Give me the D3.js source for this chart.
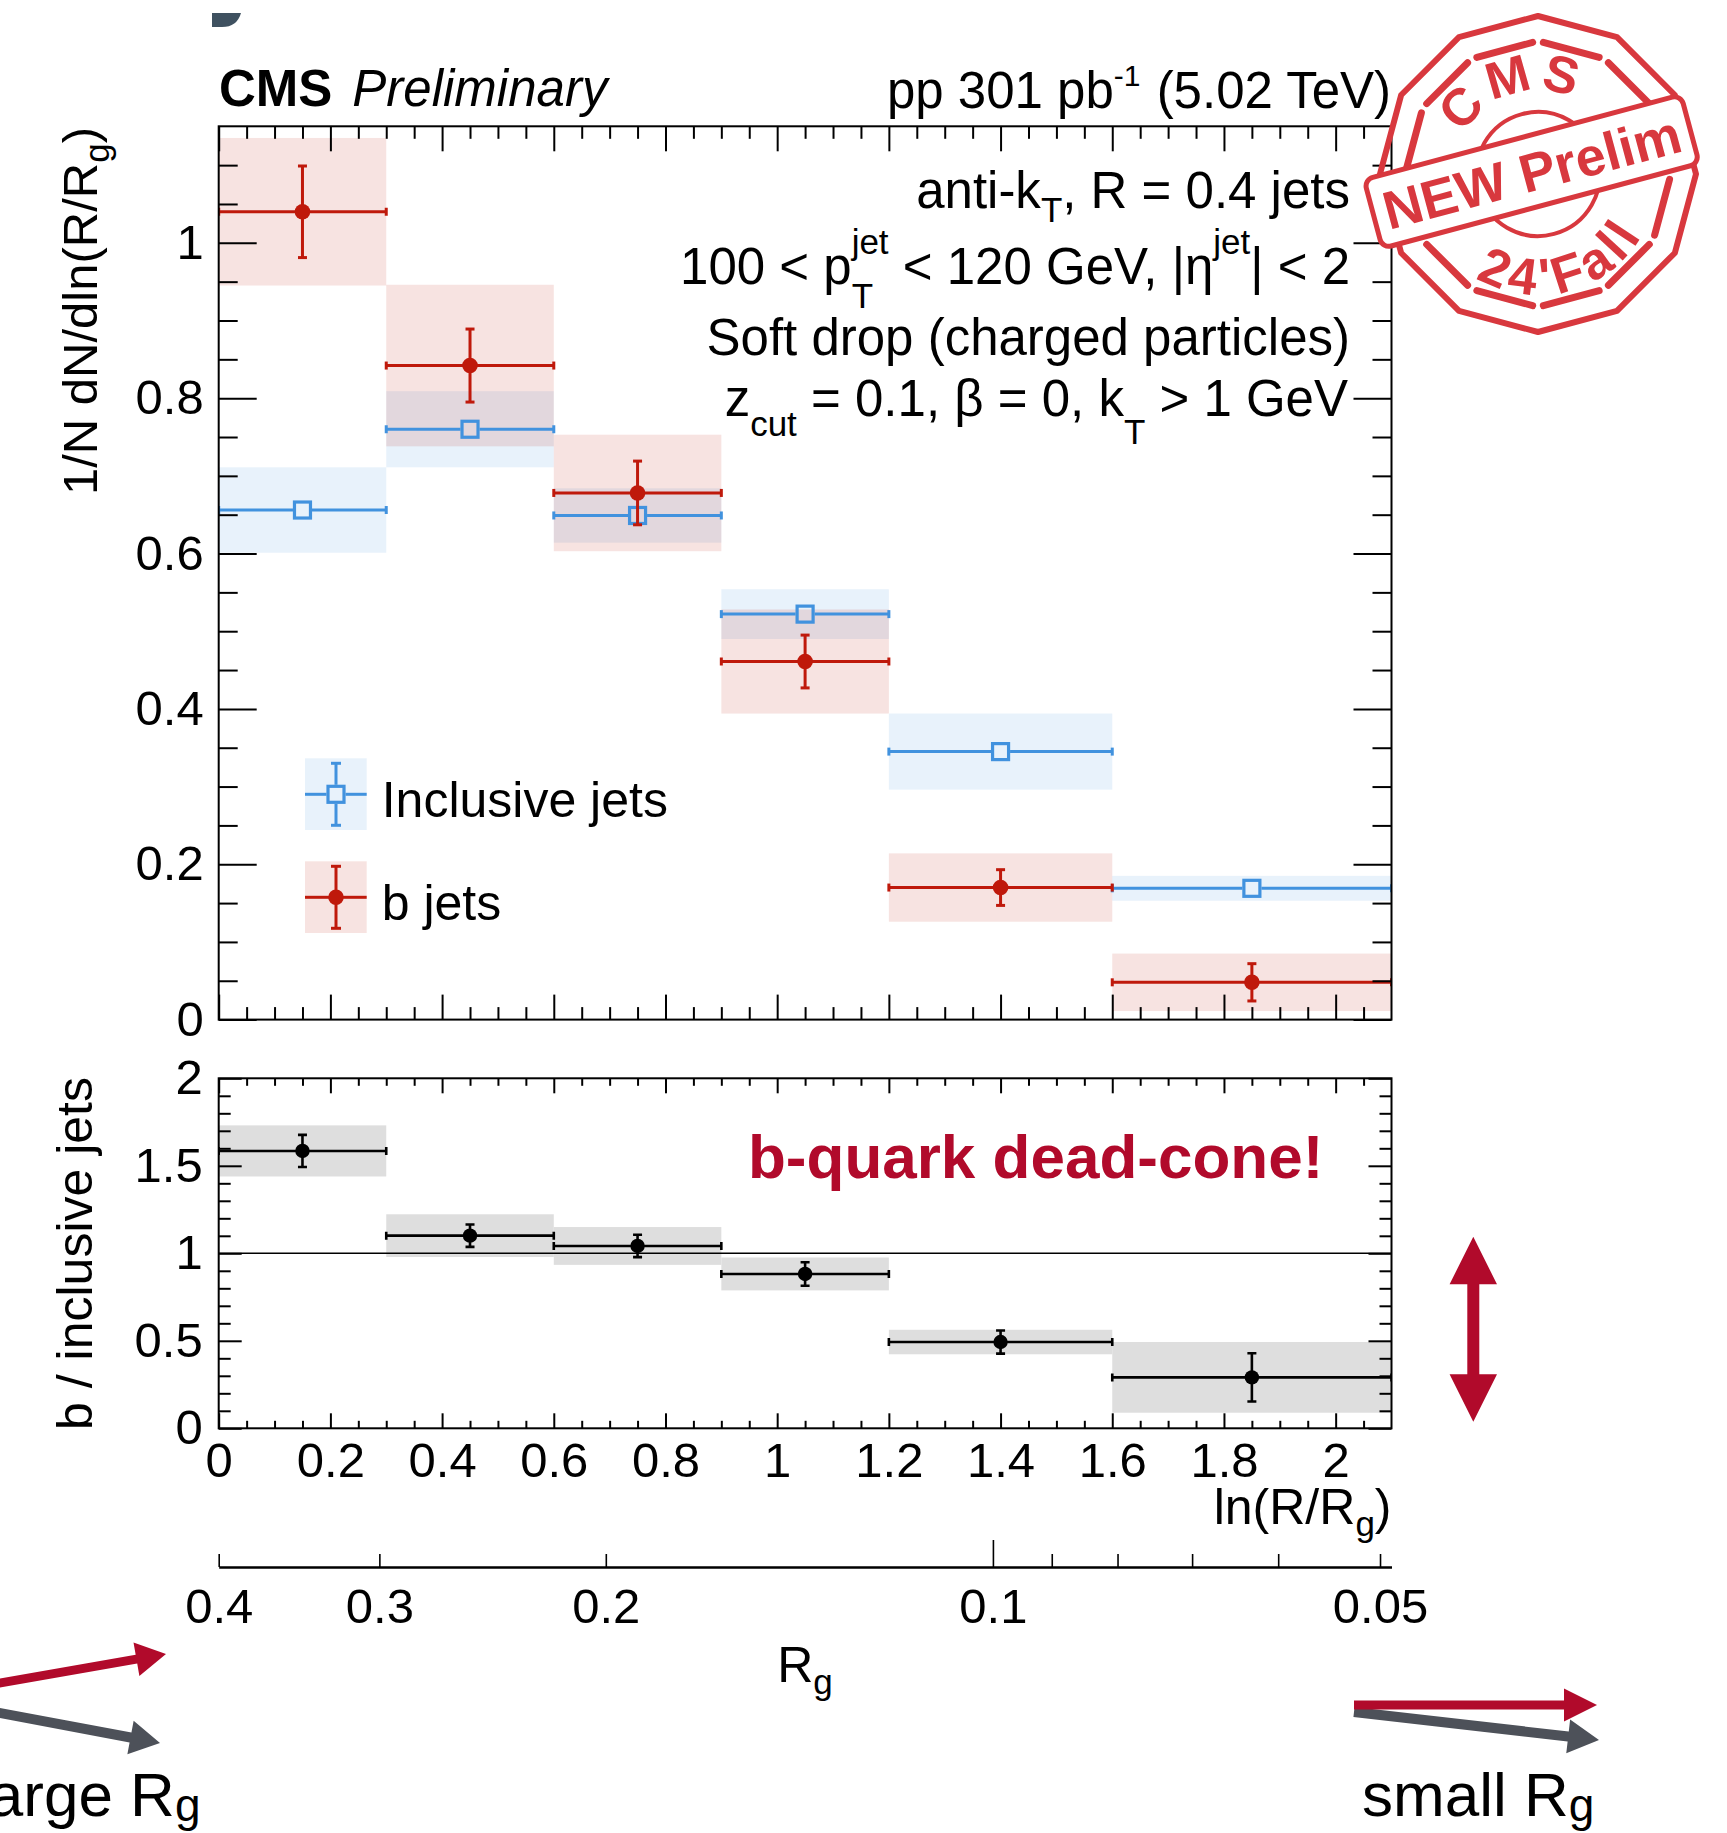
<!DOCTYPE html>
<html><head><meta charset="utf-8">
<script src="https://cdn.jsdelivr.net/npm/d3@7"></script>
<style>
html,body{margin:0;padding:0;background:#fff;}
svg{display:block;}
</style></head><body>
<svg id="c" width="1727" height="1833"></svg>
<script>
// ---------------- DATA ----------------
const binEdges   = [0, 0.3, 0.6, 0.9, 1.2, 1.6, 2.1];          // ln(R/Rg) bin edges
const binCenters = [0.15, 0.45, 0.75, 1.05, 1.4, 1.85];
const inclValue  = [0.656, 0.760, 0.649, 0.522, 0.345, 0.169];   // inclusive jets
const inclStat   = [0.004, 0.004, 0.004, 0.004, 0.005, 0.004];
const inclSys    = [0.055, 0.049, 0.035, 0.032, 0.049, 0.016];
const bValue     = [1.040, 0.842, 0.678, 0.461, 0.170, 0.048];   // b jets
const bStat      = [0.059, 0.047, 0.041, 0.034, 0.023, 0.024];
const bSys       = [0.095, 0.104, 0.075, 0.067, 0.044, 0.037];
const ratioValue = [1.585, 1.101, 1.042, 0.882, 0.493, 0.291];   // b / inclusive
const ratioStat  = [0.092, 0.064, 0.064, 0.067, 0.066, 0.138];
const ratioSys   = [0.146, 0.122, 0.108, 0.094, 0.070, 0.202];
const rgLabels   = [0.4, 0.3, 0.2, 0.1, 0.05];
const rgMinor    = [0.4, 0.3, 0.2, 0.09, 0.08, 0.07, 0.06, 0.05];
const rgMajor    = [0.1];
const legendLabels = ["Inclusive jets", "b jets"];

// ---------------- SETUP ----------------
const FONT = '"Liberation Sans", Arial, Helvetica, sans-serif';
const BLUE = '#4192de', RED = '#bf190b', DARKRED = '#b10a2b', GRAYA = '#4d5159';
const BLUEFILL = 'rgba(66,146,222,0.12)', REDFILL = 'rgba(191,25,11,0.12)', GRAYFILL = '#dedede';
const X0 = 218.7, X1 = 1391.5, YT0 = 126.3, YT1 = 1019.6, YB0 = 1078.3, YB1 = 1428.3;
const SQ = 16, SQGAP = 9.5;

const svg = d3.select('#c');
svg.append('rect').attr('width', 1727).attr('height', 1833).attr('fill', '#fff');

const x    = d3.scaleLinear().domain([0, 2.1]).range([X0, X1]);
const yTop = d3.scaleLinear().domain([0, 1.15]).range([YT1, YT0]);
const yBot = d3.scaleLinear().domain([0, 2]).range([YB1, YB0]);
const xRg  = d3.scaleLog().domain([0.4, 0.4 * Math.exp(-2.1)]).range([X0, X1]);

function steps(lo, hi, st) { const n = Math.round((hi - lo) / st); return d3.range(n + 1).map(i => +(lo + i * st).toFixed(6)); }
function minorOf(all, major, hi) { return all.filter(v => !major.some(m => Math.abs(m - v) < 1e-6) && v < hi - 1e-6 && v > 1e-6); }
const xMajor = steps(0, 2.0, 0.2), xMinor = minorOf(steps(0, 2.1, 0.05), xMajor, 2.1);
const yTopMajor = steps(0, 1.0, 0.2), yTopMinor = minorOf(steps(0, 1.15, 0.05), yTopMajor, 1.15);
const yBotMajor = steps(0, 2, 0.5), yBotMinor = minorOf(steps(0, 2, 0.1), yBotMajor, 2);

const defs = svg.append('defs');
defs.append('clipPath').attr('id', 'clipTop').append('rect')
  .attr('x', X0).attr('y', YT0).attr('width', X1 - X0).attr('height', YT1 - YT0);
defs.append('clipPath').attr('id', 'clipBot').append('rect')
  .attr('x', X0).attr('y', YB0).attr('width', X1 - X0).attr('height', YB1 - YB0);

// rich text with sub/superscripts
function rich(parent, px, py, parts, o = {}) {
  const fs = o.fs || 50, ss = o.ss || 35, anchor = o.anchor || 'start';
  const outer = parent.append('g').attr('transform', `translate(${px},${py})` + (o.rot ? ` rotate(${o.rot})` : ''));
  const g = outer.append('g').attr('font-family', FONT).attr('fill', o.fill || '#000');
  if (o.weight) g.attr('font-weight', o.weight);
  let cx = 0;
  parts.forEach(p => {
    if (typeof p === 'string') {
      const t = g.append('text').attr('x', cx).attr('y', 0).attr('font-size', fs).style('white-space', 'pre').text(p);
      if (o.italic) t.attr('font-style', 'italic');
      cx += t.node().getComputedTextLength();
    } else {
      let w = 0;
      if (p.sup != null) {
        const t = g.append('text').attr('x', cx).attr('y', -p.up).attr('font-size', p.size || ss).style('white-space', 'pre').text(p.sup);
        w = Math.max(w, t.node().getComputedTextLength());
      }
      if (p.sub != null) {
        const t = g.append('text').attr('x', cx).attr('y', p.down).attr('font-size', p.size || ss).style('white-space', 'pre').text(p.sub);
        w = Math.max(w, t.node().getComputedTextLength());
      }
      cx += w + (p.after || 0);
    }
  });
  const shift = anchor === 'end' ? -cx : anchor === 'middle' ? -cx / 2 : 0;
  g.attr('transform', `translate(${shift},0)`);
  return cx;
}

function drawAxis(parent, ax, transform, vals, size, fmt, pad, fsz) {
  ax.tickValues(vals).tickSize(size).tickPadding(pad || 0).tickFormat(fmt || (() => ''));
  const g = parent.append('g').attr('transform', transform).call(ax);
  g.select('.domain').remove();
  g.attr('font-family', FONT).attr('font-size', fsz || 49);
  g.selectAll('line').attr('stroke', '#000').attr('stroke-width', 2);
  g.selectAll('text').attr('fill', '#000');
  return g;
}
const fmt = d3.format('~g');

// ---------------- TOP PANEL ----------------
const gTop = svg.append('g');
const gTopData = gTop.append('g').attr('clip-path', 'url(#clipTop)');
const idx = d3.range(binCenters.length);

function boxes(g, yS, vals, sys, fill) {
  g.append('g').selectAll('rect').data(idx).join('rect')
    .attr('x', i => x(binEdges[i])).attr('width', i => x(binEdges[i + 1]) - x(binEdges[i]))
    .attr('y', i => yS(vals[i] + sys[i])).attr('height', i => yS(vals[i] - sys[i]) - yS(vals[i] + sys[i]))
    .attr('fill', fill);
}
function errorBars(g, yS, vals, stat, color, lw, gap) {
  const eg = g.append('g').attr('stroke', color).attr('stroke-width', lw);
  eg.selectAll('line.hl').data(idx).join('line').attr('class', 'hl')
    .attr('x1', i => x(binEdges[i])).attr('x2', i => x(binCenters[i]) - gap)
    .attr('y1', i => yS(vals[i])).attr('y2', i => yS(vals[i]));
  eg.selectAll('line.hr').data(idx).join('line').attr('class', 'hr')
    .attr('x1', i => x(binCenters[i]) + gap).attr('x2', i => x(binEdges[i + 1]))
    .attr('y1', i => yS(vals[i])).attr('y2', i => yS(vals[i]));
  eg.selectAll('line.cl').data(idx).join('line').attr('class', 'cl')
    .attr('x1', i => x(binEdges[i])).attr('x2', i => x(binEdges[i]))
    .attr('y1', i => yS(vals[i]) - 4).attr('y2', i => yS(vals[i]) + 4);
  eg.selectAll('line.cr').data(idx).join('line').attr('class', 'cr')
    .attr('x1', i => x(binEdges[i + 1])).attr('x2', i => x(binEdges[i + 1]))
    .attr('y1', i => yS(vals[i]) - 4).attr('y2', i => yS(vals[i]) + 4);
  const vis = idx.filter(i => yS(vals[i]) - yS(vals[i] + stat[i]) > gap + 1);
  eg.selectAll('line.vu').data(vis).join('line').attr('class', 'vu')
    .attr('x1', i => x(binCenters[i])).attr('x2', i => x(binCenters[i]))
    .attr('y1', i => yS(vals[i] + stat[i])).attr('y2', i => yS(vals[i]) - gap);
  eg.selectAll('line.vd').data(vis).join('line').attr('class', 'vd')
    .attr('x1', i => x(binCenters[i])).attr('x2', i => x(binCenters[i]))
    .attr('y1', i => yS(vals[i]) + gap).attr('y2', i => yS(vals[i] - stat[i]));
  eg.selectAll('line.tu').data(vis).join('line').attr('class', 'tu')
    .attr('x1', i => x(binCenters[i]) - 4.5).attr('x2', i => x(binCenters[i]) + 4.5)
    .attr('y1', i => yS(vals[i] + stat[i])).attr('y2', i => yS(vals[i] + stat[i]));
  eg.selectAll('line.td').data(vis).join('line').attr('class', 'td')
    .attr('x1', i => x(binCenters[i]) - 4.5).attr('x2', i => x(binCenters[i]) + 4.5)
    .attr('y1', i => yS(vals[i] - stat[i])).attr('y2', i => yS(vals[i] - stat[i]));
}

boxes(gTopData, yTop, inclValue, inclSys, BLUEFILL);
boxes(gTopData, yTop, bValue, bSys, REDFILL);
errorBars(gTopData, yTop, inclValue, inclStat, BLUE, 3, SQGAP);
gTopData.append('g').selectAll('rect').data(idx).join('rect')
  .attr('x', i => x(binCenters[i]) - SQ / 2).attr('y', i => yTop(inclValue[i]) - SQ / 2)
  .attr('width', SQ).attr('height', SQ).attr('fill', 'none').attr('stroke', BLUE).attr('stroke-width', 3.2);
errorBars(gTopData, yTop, bValue, bStat, RED, 3, 0);
gTopData.append('g').selectAll('circle').data(idx).join('circle')
  .attr('cx', i => x(binCenters[i])).attr('cy', i => yTop(bValue[i])).attr('r', 7.8).attr('fill', RED);

gTop.append('rect').attr('x', X0).attr('y', YT0).attr('width', X1 - X0).attr('height', YT1 - YT0)
  .attr('fill', 'none').attr('stroke', '#000').attr('stroke-width', 2);
drawAxis(gTop, d3.axisLeft(yTop), `translate(${X0},0)`, yTopMajor, -38, fmt, 15);
drawAxis(gTop, d3.axisLeft(yTop), `translate(${X0},0)`, yTopMinor, -19);
drawAxis(gTop, d3.axisRight(yTop), `translate(${X1},0)`, yTopMajor, -38);
drawAxis(gTop, d3.axisRight(yTop), `translate(${X1},0)`, yTopMinor, -19);
drawAxis(gTop, d3.axisBottom(x), `translate(0,${YT1})`, xMajor, -25);
drawAxis(gTop, d3.axisBottom(x), `translate(0,${YT1})`, xMinor, -12.5);
drawAxis(gTop, d3.axisTop(x), `translate(0,${YT0})`, xMajor, -25);
drawAxis(gTop, d3.axisTop(x), `translate(0,${YT0})`, xMinor, -12.5);

// ---------------- BOTTOM PANEL ----------------
const gBot = svg.append('g');
const gBotData = gBot.append('g').attr('clip-path', 'url(#clipBot)');
boxes(gBotData, yBot, ratioValue, ratioSys, GRAYFILL);
gBot.append('line').attr('x1', x(0)).attr('x2', x(2.1)).attr('y1', yBot(1)).attr('y2', yBot(1))
  .attr('stroke', '#000').attr('stroke-width', 1.6);
errorBars(gBotData, yBot, ratioValue, ratioStat, '#000', 2.6, 0);
gBotData.append('g').selectAll('circle').data(idx).join('circle')
  .attr('cx', i => x(binCenters[i])).attr('cy', i => yBot(ratioValue[i])).attr('r', 7.2).attr('fill', '#000');

gBot.append('rect').attr('x', X0).attr('y', YB0).attr('width', X1 - X0).attr('height', YB1 - YB0)
  .attr('fill', 'none').attr('stroke', '#000').attr('stroke-width', 2);
drawAxis(gBot, d3.axisLeft(yBot), `translate(${X0},0)`, yBotMajor, -23, fmt, 16);
drawAxis(gBot, d3.axisLeft(yBot), `translate(${X0},0)`, yBotMinor, -12);
drawAxis(gBot, d3.axisRight(yBot), `translate(${X1},0)`, yBotMajor, -23);
drawAxis(gBot, d3.axisRight(yBot), `translate(${X1},0)`, yBotMinor, -12);
drawAxis(gBot, d3.axisBottom(x), `translate(0,${YB1})`, xMajor, -15, fmt, 14);
drawAxis(gBot, d3.axisBottom(x), `translate(0,${YB1})`, xMinor, -7.5);
drawAxis(gBot, d3.axisTop(x), `translate(0,${YB0})`, xMajor, -15);
drawAxis(gBot, d3.axisTop(x), `translate(0,${YB0})`, xMinor, -7.5);

// ---------------- Rg secondary axis ----------------
const YRG = 1567;
const rgAx = d3.axisBottom(xRg).tickValues(rgLabels).tickSizeInner(0).tickSizeOuter(0).tickPadding(21).tickFormat(d => String(d));
const gRg = svg.append('g').attr('transform', `translate(0,${YRG})`).call(rgAx);
gRg.attr('font-family', FONT).attr('font-size', 49);
gRg.select('.domain').attr('stroke', '#000').attr('stroke-width', 2.5);
gRg.selectAll('text').attr('fill', '#000');
drawAxis(svg, d3.axisBottom(xRg), `translate(0,${YRG})`, rgMinor, -13).selectAll('line').attr('stroke-width', 1.6);
drawAxis(svg, d3.axisBottom(xRg), `translate(0,${YRG})`, rgMajor, -27).selectAll('line').attr('stroke-width', 1.6);

// ---------------- TEXTS ----------------
const T = svg.append('g');
const wCMS = rich(T, 219, 106, ['CMS'], { fs: 51, weight: 'bold' });
rich(T, 219 + wCMS + 20, 106, ['Preliminary'], { fs: 51, italic: true });
rich(T, 1391, 108, ['pp 301 pb', { sup: '-1', up: 22, size: 30, after: 2 }, ' (5.02 TeV)'], { fs: 51, anchor: 'end' });

rich(T, 1350, 208, ['anti-k', { sub: 'T', down: 14 }, ', R = 0.4 jets'], { fs: 51, anchor: 'end' });
rich(T, 1350, 284, ['100 < p', { sup: 'jet', up: 30, sub: 'T', down: 24 }, ' < 120 GeV, |η', { sup: 'jet', up: 30 }, '| < 2'], { fs: 51, anchor: 'end' });
rich(T, 1350, 355, ['Soft drop (charged particles)'], { fs: 51, anchor: 'end' });
rich(T, 1348, 416, ['z', { sub: 'cut', down: 20 }, ' = 0.1, β = 0, k', { sub: 'T', down: 28 }, ' > 1 GeV'], { fs: 51, anchor: 'end' });

// axis titles
rich(T, 97, 127, ['1/N dN/dln(R/R', { sub: 'g', down: 12 }, ')'], { fs: 49, rot: -90, anchor: 'end' });
rich(T, 92, 1077, ['b / inclusive jets'], { fs: 50, rot: -90, anchor: 'end' });
rich(T, 1391.5, 1524, ['ln(R/R', { sub: 'g', down: 12 }, ')'], { fs: 50, anchor: 'end' });
rich(T, 805, 1682, ['R', { sub: 'g', down: 12 }], { fs: 50, anchor: 'middle' });

// legend
const L = svg.append('g');
const legColors = [[BLUEFILL, BLUE], [REDFILL, RED]];
const legY = [794.3, 897.3];
legendLabels.forEach((lab, k) => {
  const cy = legY[k];
  L.append('rect').attr('x', 305).attr('y', cy - 36).attr('width', 61.7).attr('height', 71.7).attr('fill', legColors[k][0]);
  const lg = L.append('g').attr('stroke', legColors[k][1]).attr('stroke-width', 3);
  const gap = k === 0 ? SQGAP : 0;
  lg.append('line').attr('x1', 305).attr('x2', 336 - gap).attr('y1', cy).attr('y2', cy);
  lg.append('line').attr('x1', 336 + gap).attr('x2', 366.7).attr('y1', cy).attr('y2', cy);
  lg.append('line').attr('x1', 336).attr('x2', 336).attr('y1', cy - 31).attr('y2', cy - gap);
  lg.append('line').attr('x1', 336).attr('x2', 336).attr('y1', cy + gap).attr('y2', cy + 31);
  lg.append('line').attr('x1', 331).attr('x2', 341).attr('y1', cy - 31).attr('y2', cy - 31);
  lg.append('line').attr('x1', 331).attr('x2', 341).attr('y1', cy + 31).attr('y2', cy + 31);
  if (k === 0) L.append('rect').attr('x', 336 - SQ / 2).attr('y', cy - SQ / 2).attr('width', SQ).attr('height', SQ)
    .attr('fill', 'none').attr('stroke', BLUE).attr('stroke-width', 3.2);
  else L.append('circle').attr('cx', 336).attr('cy', cy).attr('r', 7.8).attr('fill', RED);
  rich(L, 381.7, cy + 23, [lab], { fs: 50 });
});

// annotation
rich(T, 748, 1178, ['b-quark dead-cone!'], { fs: 62, weight: 'bold', fill: DARKRED });

// ---------------- ARROWS ----------------
function arrowPts(x1, y1, x2, y2, sw, hl, hw) {
  const dx = x2 - x1, dy = y2 - y1, Ln = Math.hypot(dx, dy), ux = dx / Ln, uy = dy / Ln, nx = -uy, ny = ux;
  const bx = x2 - ux * hl, by = y2 - uy * hl;
  return [[x1 + nx * sw / 2, y1 + ny * sw / 2], [bx + nx * sw / 2, by + ny * sw / 2], [bx + nx * hw / 2, by + ny * hw / 2],
          [x2, y2], [bx - nx * hw / 2, by - ny * hw / 2], [bx - nx * sw / 2, by - ny * sw / 2], [x1 - nx * sw / 2, y1 - ny * sw / 2]];
}
const A = svg.append('g');
function arrow(x1, y1, x2, y2, sw, hl, hw, col) {
  A.append('polygon').attr('points', arrowPts(x1, y1, x2, y2, sw, hl, hw).map(p => p.join(',')).join(' ')).attr('fill', col);
}
arrow(-40, 1690, 166, 1654, 9, 30, 34, DARKRED);
arrow(-40, 1705.5, 160, 1743, 10, 30, 34, GRAYA);
arrow(1354, 1712, 1599, 1740, 10, 31, 34, GRAYA);
arrow(1354, 1705, 1597, 1705, 9, 33, 33, DARKRED);
A.append('polygon').attr('points', [
  [1473.3, 1236.7], [1497, 1284.3], [1479.3, 1284.3], [1479.3, 1374.3], [1497, 1374.3], [1473.3, 1421.7],
  [1449.6, 1374.3], [1467.3, 1374.3], [1467.3, 1284.3], [1449.6, 1284.3]].map(p => p.join(',')).join(' '))
  .attr('fill', DARKRED);

rich(T, -25, 1816, ['large R', { sub: 'g', down: 5, size: 46 }], { fs: 62 });
rich(T, 1362, 1816, ['small R', { sub: 'g', down: 5, size: 46 }], { fs: 62 });

// dark corner shape at top
svg.append('path').attr('d', 'M212,13 H241 Q237,27 222,27 H212 Z').attr('fill', '#3f5160');

// ---------------- STAMP ----------------
const SC = '#d8383e';
const st = svg.append('g').attr('transform', 'translate(1538,174) rotate(-15)');
const ang = d3.range(12).map(k => (15 + 30 * k) * Math.PI / 180);
const poly = r => ang.map(a => [r * Math.cos(a), r * Math.sin(a)]);
st.append('polygon').attr('points', poly(158).map(p => p.join(',')).join(' '))
  .attr('fill', 'none').attr('stroke', SC).attr('stroke-width', 6).attr('stroke-linejoin', 'round');
const inner = poly(133);
inner.forEach((p, k) => {
  const q = inner[(k + 1) % 12];
  const f = 0.08;
  st.append('line').attr('x1', p[0] + (q[0] - p[0]) * f).attr('y1', p[1] + (q[1] - p[1]) * f)
    .attr('x2', q[0] - (q[0] - p[0]) * f).attr('y2', q[1] - (q[1] - p[1]) * f)
    .attr('stroke', SC).attr('stroke-width', 7).attr('stroke-linecap', 'round');
});
st.append('circle').attr('r', 62).attr('fill', 'none').attr('stroke', SC).attr('stroke-width', 4);
const sdefs = svg.select('defs');
sdefs.append('path').attr('id', 'arcTop').attr('d', 'M-84,0 A84,84 0 0 1 84,0');
sdefs.append('path').attr('id', 'arcBot').attr('d', 'M-121,0 A121,121 0 0 0 121,0');
st.append('text').attr('font-family', FONT).attr('font-weight', 'bold').attr('font-size', 52).attr('fill', SC)
  .attr('letter-spacing', 6)
  .append('textPath').attr('href', '#arcTop').attr('startOffset', '49%').attr('text-anchor', 'middle').text('CMS');
st.append('text').attr('font-family', FONT).attr('font-weight', 'bold').attr('font-size', 52).attr('fill', SC)
  .attr('letter-spacing', 5)
  .append('textPath').attr('href', '#arcBot').attr('startOffset', '50%').attr('text-anchor', 'middle').text("24'Fall");
st.append('rect').attr('x', -169.5).attr('y', -39.5).attr('width', 328).attr('height', 71).attr('rx', 9)
  .attr('fill', '#fff').attr('stroke', SC).attr('stroke-width', 5);
st.append('text').attr('x', -5.5).attr('y', 15.5).attr('text-anchor', 'middle').attr('font-family', FONT)
  .attr('font-weight', 'bold').attr('font-size', 54).attr('fill', SC).text('NEW Prelim');
</script>
</body></html>
